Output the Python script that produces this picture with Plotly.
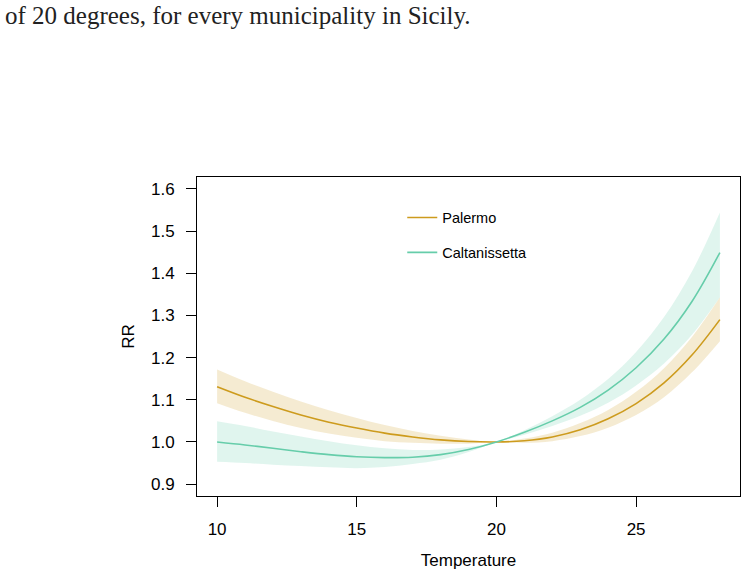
import plotly.graph_objects as go

temperature = [10, 11, 12, 13, 14, 15, 16, 17, 18, 19, 20, 21, 22, 23, 24, 25, 26, 27, 28]

palermo_rr = [1.131, 1.106, 1.084, 1.064, 1.047, 1.033, 1.021, 1.012, 1.005, 1.001, 1.000,
              1.003, 1.012, 1.029, 1.055, 1.091, 1.140, 1.206, 1.290]
palermo_hi = [1.172, 1.144, 1.119, 1.096, 1.075, 1.057, 1.040, 1.026, 1.015, 1.006, 1.000,
              1.008, 1.022, 1.045, 1.076, 1.119, 1.175, 1.249, 1.343]
palermo_lo = [1.092, 1.069, 1.050, 1.033, 1.020, 1.010, 1.002, 0.998, 0.996, 0.996, 1.000,
              0.998, 1.002, 1.014, 1.034, 1.064, 1.106, 1.165, 1.239]

caltan_rr = [1.000, 0.993, 0.985, 0.977, 0.970, 0.965, 0.963, 0.964, 0.970, 0.982, 1.000,
             1.023, 1.050, 1.082, 1.123, 1.176, 1.244, 1.333, 1.449]
caltan_hi = [1.049, 1.038, 1.025, 1.013, 1.002, 0.992, 0.985, 0.981, 0.982, 0.988, 1.000,
             1.028, 1.061, 1.100, 1.149, 1.213, 1.296, 1.404, 1.544]
caltan_lo = [0.953, 0.950, 0.946, 0.943, 0.940, 0.938, 0.941, 0.948, 0.958, 0.976, 1.000,
             1.017, 1.038, 1.062, 1.093, 1.134, 1.186, 1.254, 1.343]

x_ticks = [10, 15, 20, 25]
y_ticks = [0.9, 1.0, 1.1, 1.2, 1.3, 1.4, 1.5, 1.6]

PAL = "#CD9B1D"
PAL_BAND = "rgba(205,155,29,0.2)"
CAL = "#66CDAA"
CAL_BAND = "rgba(102,205,170,0.2)"
FONT = "Liberation Sans, Arial, sans-serif"

fig = go.Figure()


def add_band(lo, hi, color):
    fig.add_trace(go.Scatter(
        x=temperature, y=lo, mode="lines",
        line=dict(width=0, shape="spline", color="rgba(0,0,0,0)"),
        showlegend=False, hoverinfo="skip"))
    fig.add_trace(go.Scatter(
        x=temperature, y=hi, mode="lines", fill="tonexty", fillcolor=color,
        line=dict(width=0, shape="spline", color="rgba(0,0,0,0)"),
        showlegend=False, hoverinfo="skip"))


add_band(palermo_lo, palermo_hi, PAL_BAND)
add_band(caltan_lo, caltan_hi, CAL_BAND)

fig.add_trace(go.Scatter(
    x=temperature, y=palermo_rr, mode="lines", name="Palermo",
    line=dict(color=PAL, width=1.6, shape="spline"), legendgroup="p"))
fig.add_trace(go.Scatter(
    x=temperature, y=caltan_rr, mode="lines", name="Caltanissetta",
    line=dict(color=CAL, width=1.6, shape="spline"), legendgroup="c"))

fig.update_layout(
    width=747, height=576,
    margin=dict(l=197, r=7, t=177, b=80, autoexpand=False),
    paper_bgcolor="white", plot_bgcolor="white",
    font=dict(family=FONT, color="black", size=17),
    title=dict(
        text="of 20 degrees, for every municipality in Sicily.",
        font=dict(family="Liberation Serif, DejaVu Serif, serif", size=25, color="#222"),
        x=5 / 747, xref="container", xanchor="left",
        y=1 - 6 / 576, yref="container", yanchor="top"),
    legend=dict(
        x=0.378, y=0.923, xanchor="left", yanchor="top",
        bgcolor="rgba(0,0,0,0)", borderwidth=0,
        font=dict(family=FONT, size=14.5, color="black"),
        tracegroupgap=13, itemwidth=30),
    xaxis=dict(
        range=[9.28, 28.72], tickvals=x_ticks, ticks="outside", ticklen=10,
        tickcolor="black", showline=True, mirror=True, linecolor="black", linewidth=1,
        showgrid=False, zeroline=False, ticklabelstandoff=8,
        tickfont=dict(size=17),
        title=dict(text="Temperature", font=dict(size=17), standoff=15)),
    yaxis=dict(
        range=[0.872, 1.628], tickvals=y_ticks, tickformat=".1f", ticks="outside",
        ticklen=10, tickcolor="black", showline=True, mirror=True, linecolor="black",
        linewidth=1, showgrid=False, zeroline=False, ticklabelstandoff=8,
        tickfont=dict(size=17),
        title=dict(text="RR", font=dict(size=17), standoff=12)),
)

fig.write_html("out.html")
